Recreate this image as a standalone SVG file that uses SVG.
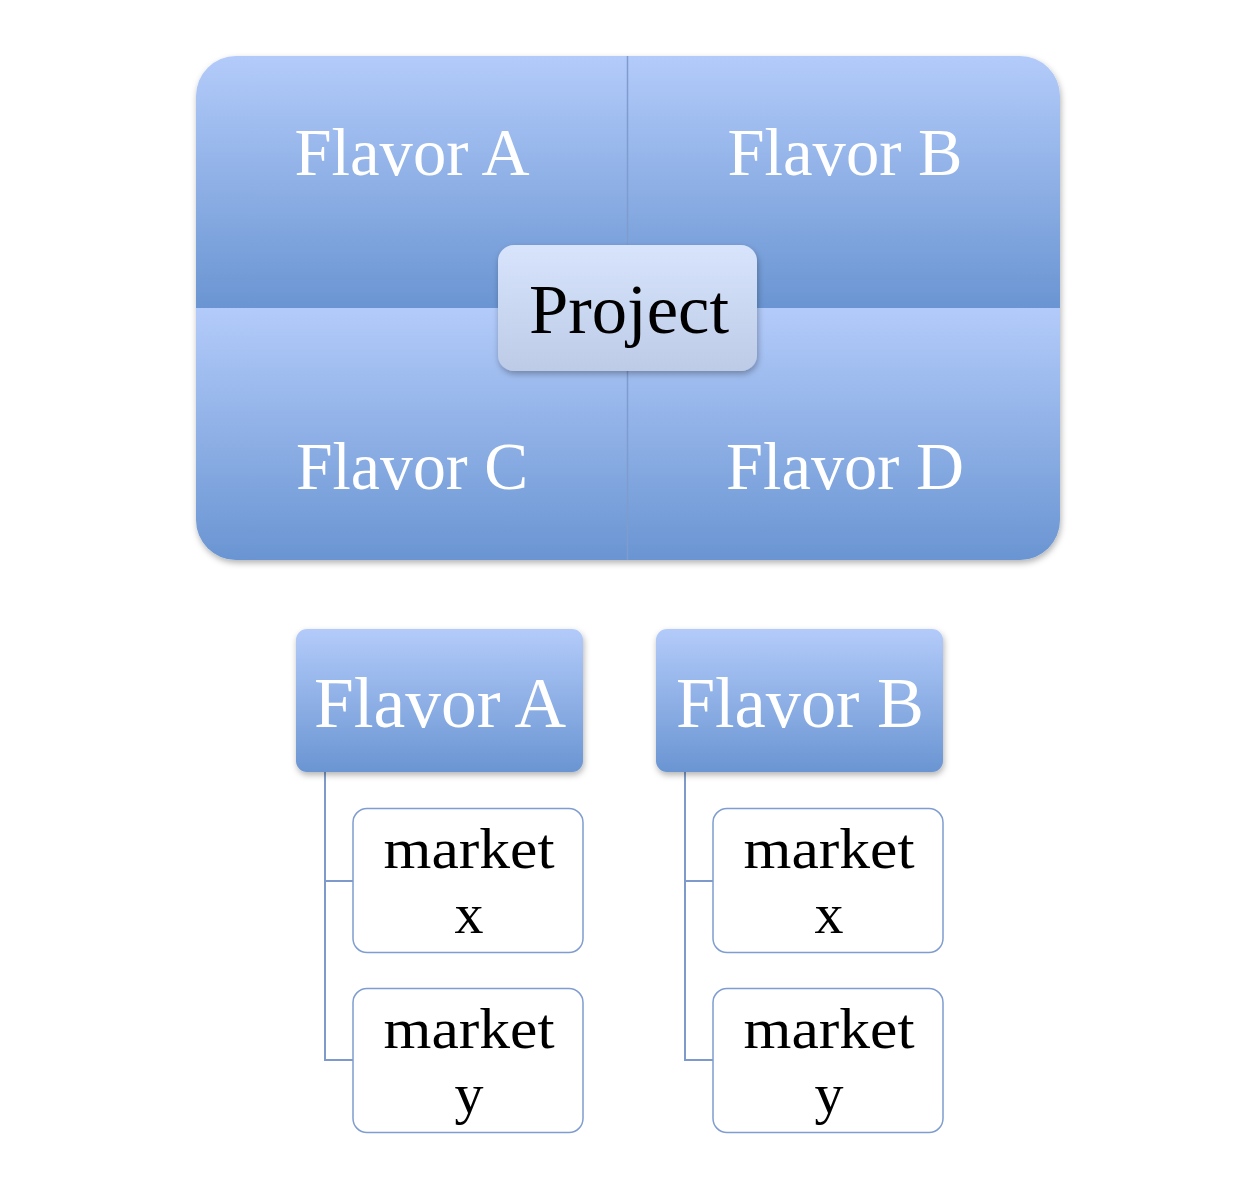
<svg xmlns="http://www.w3.org/2000/svg" width="1239" height="1182" viewBox="0 0 1239 1182">
<defs>
<linearGradient id="gq" x1="0" y1="0" x2="0" y2="1">
<stop offset="0" stop-color="#b3cbfa"/>
<stop offset="1" stop-color="#6a95d2"/>
</linearGradient>
<linearGradient id="gp" x1="0" y1="0" x2="0" y2="1">
<stop offset="0" stop-color="#d8e4fc"/>
<stop offset="1" stop-color="#bdcbe7"/>
</linearGradient>
<clipPath id="bigclip"><rect x="196" y="56" width="864" height="504" rx="40" ry="40"/></clipPath>
<filter id="sh" x="-10%" y="-10%" width="120%" height="130%">
<feDropShadow dx="1" dy="3" stdDeviation="3" flood-color="#000" flood-opacity="0.3"/>
</filter>
</defs>
<style>
.w{fill:#ffffff;font-family:"Liberation Serif","DejaVu Serif",serif;text-anchor:middle}
.b{fill:#000000;font-family:"Liberation Serif","DejaVu Serif",serif;text-anchor:middle}
.m{fill:#000000;font-family:"Liberation Serif","DejaVu Serif",serif;text-anchor:middle;font-size:58px}
.leaf{fill:#ffffff;stroke:#7f9dd0;stroke-width:1.5}
.conn{fill:none;stroke:#7e9acb;stroke-width:2}
</style>
<rect width="1239" height="1182" fill="#ffffff"/>
<g id="matrix">
<g filter="url(#sh)">
<g clip-path="url(#bigclip)">
<rect x="196" y="56" width="432" height="252" fill="url(#gq)"/>
<rect x="628" y="56" width="432" height="252" fill="url(#gq)"/>
<rect x="196" y="308" width="432" height="252" fill="url(#gq)"/>
<rect x="628" y="308" width="432" height="252" fill="url(#gq)"/>
</g>
</g>
<line x1="627.5" y1="56" x2="627.5" y2="560" stroke="#7f9cd0" stroke-width="1.5"/>
</g>
<g id="flavorA-q">
<text class="w" x="412" y="175" font-size="68" textLength="235" lengthAdjust="spacingAndGlyphs">Flavor A</text>
</g>
<g id="flavorB-q">
<text class="w" x="845" y="175" font-size="68" textLength="235" lengthAdjust="spacingAndGlyphs">Flavor B</text>
</g>
<g id="flavorC-q">
<text class="w" x="412" y="489" font-size="68" textLength="232" lengthAdjust="spacingAndGlyphs">Flavor C</text>
</g>
<g id="flavorD-q">
<text class="w" x="845" y="489" font-size="68" textLength="238" lengthAdjust="spacingAndGlyphs">Flavor D</text>
</g>
<g id="project">
<rect x="498" y="245" width="259" height="126" rx="16" ry="16" fill="url(#gp)" filter="url(#sh)"/>
<text class="b" x="629" y="333" font-size="70" textLength="200" lengthAdjust="spacingAndGlyphs">Project</text>
</g>
<g id="connectors">
<path class="conn" d="M325,772 V1060 H353 M325,881 H353"/>
<path class="conn" d="M685,772 V1060 H713 M685,881 H713"/>
</g>
<g id="flavorA">
<rect x="296" y="629" width="287" height="143" rx="11" ry="11" fill="url(#gq)" filter="url(#sh)"/>
<text class="w" x="440" y="727" font-size="72" textLength="252" lengthAdjust="spacingAndGlyphs">Flavor A</text>
</g>
<g id="flavorB">
<rect x="656" y="629" width="287" height="143" rx="11" ry="11" fill="url(#gq)" filter="url(#sh)"/>
<text class="w" x="800" y="727" font-size="72" textLength="248" lengthAdjust="spacingAndGlyphs">Flavor B</text>
</g>
<g id="a-market-x">
<rect class="leaf" x="353" y="808.5" width="230" height="144" rx="14" ry="14"/>
<text class="m" x="469" y="868" textLength="171" lengthAdjust="spacingAndGlyphs">market</text>
<text class="m" x="469" y="933">x</text>
</g>
<g id="a-market-y">
<rect class="leaf" x="353" y="988.5" width="230" height="144" rx="14" ry="14"/>
<text class="m" x="469" y="1048" textLength="171" lengthAdjust="spacingAndGlyphs">market</text>
<text class="m" x="469" y="1113">y</text>
</g>
<g id="b-market-x">
<rect class="leaf" x="713" y="808.5" width="230" height="144" rx="14" ry="14"/>
<text class="m" x="829" y="868" textLength="171" lengthAdjust="spacingAndGlyphs">market</text>
<text class="m" x="829" y="933">x</text>
</g>
<g id="b-market-y">
<rect class="leaf" x="713" y="988.5" width="230" height="144" rx="14" ry="14"/>
<text class="m" x="829" y="1048" textLength="171" lengthAdjust="spacingAndGlyphs">market</text>
<text class="m" x="829" y="1113">y</text>
</g>
</svg>
